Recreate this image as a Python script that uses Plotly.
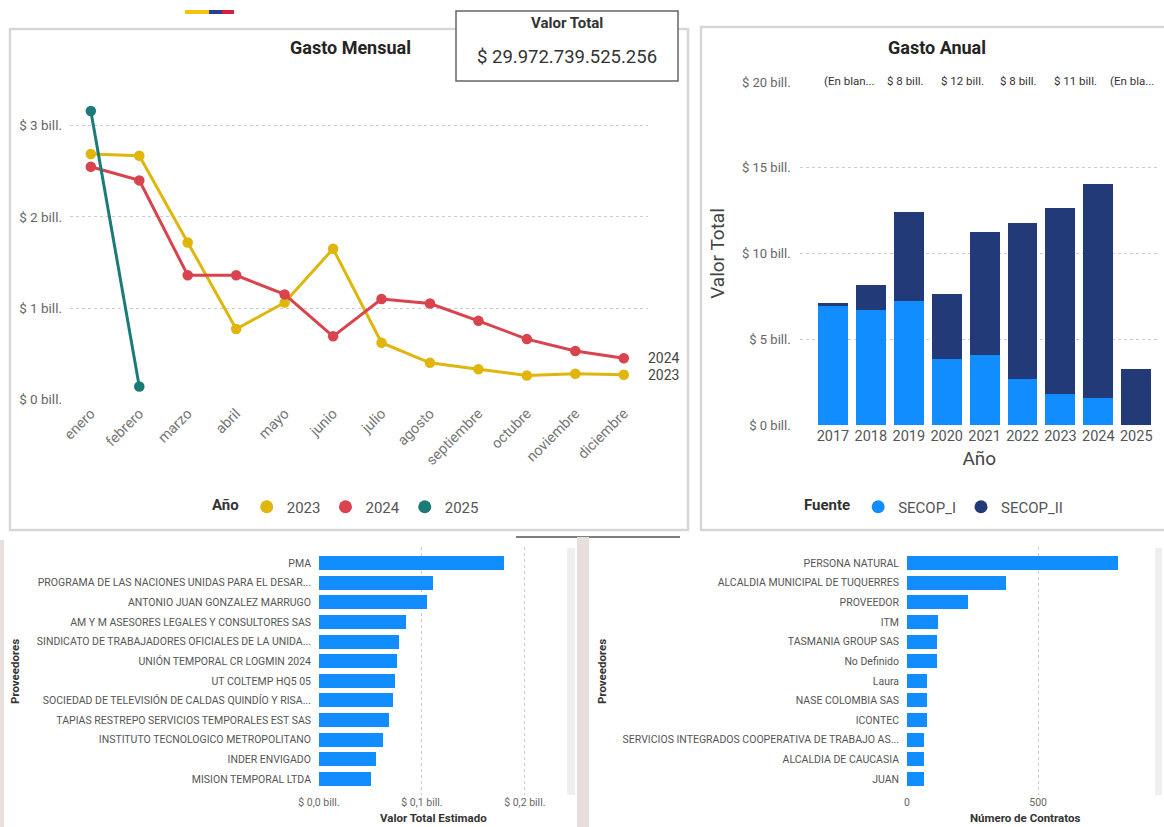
import plotly.graph_objects as go

W, H = 1164, 827


def fx(x):
    return x / W


def fy(y):
    return 1 - y / H


# ---------------- data ----------------
months = ["enero", "febrero", "marzo", "abril", "mayo", "junio", "julio",
          "agosto", "septiembre", "octubre", "noviembre", "diciembre"]
gasto_2023 = [2.69, 2.67, 1.72, 0.77, 1.06, 1.65, 0.62, 0.40, 0.33, 0.26, 0.28, 0.27]
gasto_2024 = [2.55, 2.40, 1.36, 1.36, 1.15, 0.69, 1.10, 1.05, 0.86, 0.66, 0.53, 0.45]
gasto_2025 = [3.16, 0.14]

years = ["2017", "2018", "2019", "2020", "2021", "2022", "2023", "2024", "2025"]
secop_i = [6.95, 6.69, 7.23, 3.87, 4.07, 2.66, 1.78, 1.55, 0.0]
secop_ii = [0.16, 1.47, 5.17, 3.76, 7.17, 9.14, 10.87, 12.52, 3.27]
top_labels = ["(En blan...", "$ 8 bill.", "$ 12 bill.", "$ 8 bill.", "$ 11 bill.", "(En bla..."]

prov_valor = ["PMA",
              "PROGRAMA DE LAS NACIONES UNIDAS PARA EL DESAR...",
              "ANTONIO JUAN GONZALEZ MARRUGO",
              "AM Y M ASESORES LEGALES Y CONSULTORES SAS",
              "SINDICATO DE TRABAJADORES OFICIALES DE LA UNIDA...",
              "UNIÓN TEMPORAL CR LOGMIN 2024",
              "UT COLTEMP HQ5 05",
              "SOCIEDAD DE TELEVISIÓN DE CALDAS QUINDÍO Y RISA...",
              "TAPIAS RESTREPO SERVICIOS TEMPORALES EST SAS",
              "INSTITUTO TECNOLOGICO METROPOLITANO",
              "INDER ENVIGADO",
              "MISION TEMPORAL LTDA"]
valor_estimado = [0.180, 0.111, 0.105, 0.085, 0.078, 0.076, 0.074, 0.072, 0.068, 0.062, 0.055, 0.051]

prov_contratos = ["PERSONA NATURAL",
                  "ALCALDIA MUNICIPAL DE TUQUERRES",
                  "PROVEEDOR",
                  "ITM",
                  "TASMANIA GROUP SAS",
                  "No Definido",
                  "Laura",
                  "NASE COLOMBIA SAS",
                  "ICONTEC",
                  "SERVICIOS INTEGRADOS COOPERATIVA DE TRABAJO AS...",
                  "ALCALDIA DE CAUCASIA",
                  "JUAN"]
num_contratos = [804, 377, 232, 119, 115, 115, 77, 77, 76, 64, 63, 63]

valor_total_kpi = "$ 29.972.739.525.256"

# ---------------- style ----------------
C23, C24, C25 = "#E0B60C", "#D9434E", "#1C7A78"
C_I, C_II = "#118DFF", "#233A79"
FONT = "Roboto, 'Noto Sans', sans-serif"
GRID = "#CDCDCD"
TICK = "#666666"

fig = go.Figure()

# line chart: Gasto Mensual
for name, vals, col in [("2023", gasto_2023, C23), ("2024", gasto_2024, C24), ("2025", gasto_2025, C25)]:
    fig.add_trace(go.Scatter(x=months[:len(vals)], y=vals, mode="lines+markers", name=name,
                             line=dict(color=col, width=3), marker=dict(color=col, size=10.5),
                             showlegend=False, xaxis="x", yaxis="y"))
for name, col in [("2023", C23), ("2024", C24), ("2025", C25)]:
    fig.add_trace(go.Scatter(x=[None], y=[None], mode="markers", name=name,
                             marker=dict(color=col, size=13), legend="legend",
                             xaxis="x", yaxis="y"))

# stacked bars: Gasto Anual
fig.add_trace(go.Bar(x=years, y=secop_i, name="SECOP_I", marker=dict(color=C_I, line=dict(width=0)),
                     width=0.79, showlegend=False, xaxis="x2", yaxis="y2"))
fig.add_trace(go.Bar(x=years, y=secop_ii, name="SECOP_II", marker=dict(color=C_II, line=dict(width=0)),
                     width=0.79, showlegend=False, xaxis="x2", yaxis="y2"))
for name, col in [("SECOP_I", C_I), ("SECOP_II", C_II)]:
    fig.add_trace(go.Scatter(x=[None], y=[None], mode="markers", name=name,
                             marker=dict(color=col, size=13), legend="legend2",
                             xaxis="x2", yaxis="y2"))

# horizontal bars
fig.add_trace(go.Bar(x=valor_estimado, y=prov_valor, orientation="h", marker=dict(color=C_I, line=dict(width=0)),
                     width=0.71, showlegend=False, xaxis="x3", yaxis="y3"))
fig.add_trace(go.Bar(x=num_contratos, y=prov_contratos, orientation="h", marker=dict(color=C_I, line=dict(width=0)),
                     width=0.71, showlegend=False, xaxis="x4", yaxis="y4"))

noline = dict(showline=False, zeroline=False, ticks="", automargin=False)

layout = dict(
    width=W, height=H, margin=dict(l=0, r=0, t=0, b=0),
    template="none", paper_bgcolor="white", plot_bgcolor="rgba(0,0,0,0)",
    font=dict(family=FONT, color="#444"), separators=",.", barmode="stack",
    xaxis=dict(domain=[fx(70), fx(648)], anchor="y", type="category", categoryorder="array",
               categoryarray=months, range=[-0.43, 11.5], tickangle=-45, showgrid=False,
               tickfont=dict(family=FONT, size=14.5, color="#777"), ticklabelstandoff=2, **noline),
    yaxis=dict(domain=[fy(399.3), fy(98.3)], anchor="x", range=[0, 3.3], tick0=0, dtick=1,
               tickprefix="$ ", ticksuffix=" bill.", showgrid=True, gridcolor=GRID, griddash="dot",
               gridwidth=1, tickfont=dict(family=FONT, size=13.5, color=TICK), ticklabelstandoff=7, **noline),
    xaxis2=dict(domain=[fx(799.6), fx(1159)], anchor="y2", type="category", categoryorder="array",
                categoryarray=years, range=[-0.88, 8.6], showgrid=False,
                tickfont=dict(family=FONT, size=14.5, color="#555"),
                title=dict(text="Año", font=dict(family=FONT, size=19, color="#444"), standoff=8), **noline),
    yaxis2=dict(domain=[fy(425), fy(82)], anchor="x2", range=[0, 20], tick0=0, dtick=5,
                tickprefix="$ ", ticksuffix=" bill.", showgrid=True, gridcolor=GRID, griddash="dot",
                tickfont=dict(family=FONT, size=13, color=TICK), ticklabelstandoff=8,
                title=dict(text="Valor Total", font=dict(family=FONT, size=19, color="#444"), standoff=12),
                **noline),
    xaxis3=dict(domain=[fx(319), fx(566)], anchor="y3", range=[0, 0.24], tick0=0, dtick=0.1, tickformat=".1f",
                tickprefix="$ ", ticksuffix=" bill.", showgrid=True, gridcolor=GRID, griddash="dot",
                tickfont=dict(family=FONT, size=10.5, color=TICK), **noline),
    yaxis3=dict(domain=[fy(794.7), fy(547.3)], anchor="x3", type="category", categoryorder="array",
                categoryarray=prov_valor, range=[len(prov_valor) - 0.2, -0.8], showgrid=False,
                tickfont=dict(family=FONT, size=10.5, color="#555"), ticklabelstandoff=7, **noline),
    xaxis4=dict(domain=[fx(907), fx(1143)], anchor="y4", range=[0, 900], tick0=0, dtick=500,
                showgrid=True, gridcolor=GRID, griddash="dot",
                tickfont=dict(family=FONT, size=10.5, color=TICK), **noline),
    yaxis4=dict(domain=[fy(794.7), fy(547.3)], anchor="x4", type="category", categoryorder="array",
                categoryarray=prov_contratos, range=[len(prov_contratos) - 0.2, -0.8], showgrid=False,
                tickfont=dict(family=FONT, size=10.5, color="#555"), ticklabelstandoff=7, **noline),
    legend=dict(orientation="h", x=fx(347), xanchor="center", y=fy(507), yanchor="middle",
                traceorder="normal",
                title=dict(text="<b>Año</b>", font=dict(family=FONT, size=15, color="#333")),
                font=dict(family=FONT, size=15, color="#555"), itemwidth=30, bgcolor="rgba(0,0,0,0)"),
    legend2=dict(orientation="h", x=fx(935), xanchor="center", y=fy(507), yanchor="middle",
                 traceorder="normal",
                 title=dict(text="<b>Fuente</b>", font=dict(family=FONT, size=15, color="#333")),
                 font=dict(family=FONT, size=15, color="#555"), itemwidth=30, bgcolor="rgba(0,0,0,0)"),
)
fig.update_layout(**layout)

# ---------------- shapes ----------------
shapes = [
    # panel borders
    dict(type="rect", xref="paper", yref="paper", x0=fx(10), x1=fx(688), y0=fy(530), y1=fy(29),
         line=dict(color="#D6D6D6", width=2.5), fillcolor="rgba(0,0,0,0)", layer="below"),
    dict(type="rect", xref="paper", yref="paper", x0=fx(701), x1=fx(1168), y0=fy(530), y1=fy(27),
         line=dict(color="#D6D6D6", width=2.5), fillcolor="rgba(0,0,0,0)", layer="below"),
    # KPI card
    dict(type="rect", xref="paper", yref="paper", x0=fx(456), x1=fx(678), y0=fy(81), y1=fy(11),
         line=dict(color="#666666", width=1.5), fillcolor="white", layer="above"),
    # flag
    dict(type="rect", xref="paper", yref="paper", x0=fx(185), x1=fx(209), y0=fy(14), y1=fy(10),
         line=dict(width=0), fillcolor="#F4C20D"),
    dict(type="rect", xref="paper", yref="paper", x0=fx(209), x1=fx(222), y0=fy(14), y1=fy(10),
         line=dict(width=0), fillcolor="#2B3F8E"),
    dict(type="rect", xref="paper", yref="paper", x0=fx(222), x1=fx(234), y0=fy(14), y1=fy(10),
         line=dict(width=0), fillcolor="#D91E3A"),
    # dark line near bottom panels
    dict(type="line", xref="paper", yref="paper", x0=fx(516), x1=fx(680), y0=fy(537), y1=fy(537),
         line=dict(color="#555555", width=1.5)),
    # divider and left edge
    dict(type="rect", xref="paper", yref="paper", x0=fx(577), x1=fx(589), y0=0, y1=fy(537),
         line=dict(width=0), fillcolor="#E7DFDB"),
    dict(type="rect", xref="paper", yref="paper", x0=0, x1=fx(4), y0=0, y1=fy(540),
         line=dict(width=0), fillcolor="#E9DFDC"),
    # scrollbars
    dict(type="rect", xref="paper", yref="paper", x0=fx(567), x1=fx(575), y0=fy(795), y1=fy(548),
         line=dict(width=0), fillcolor="#EFEFEF"),
    dict(type="rect", xref="paper", yref="paper", x0=fx(1155), x1=fx(1162), y0=fy(795), y1=fy(548),
         line=dict(width=0), fillcolor="#EFEFEF"),
]
fig.update_layout(shapes=shapes)

# ---------------- annotations ----------------
ann = [
    dict(text="<b>Gasto Mensual</b>", x=fx(350), y=fy(47), font=dict(size=18, color="#252423")),
    dict(text="<b>Gasto Anual</b>", x=fx(937), y=fy(47), font=dict(size=18, color="#252423")),
    dict(text="<b>Valor Total</b>", x=fx(567), y=fy(23), font=dict(size=15, color="#333")),
    dict(text=valor_total_kpi, x=fx(567), y=fy(57), font=dict(size=18.5, color="#333")),
    dict(text="<b>Proveedores</b>", x=fx(15), y=fy(672), textangle=-90, font=dict(size=11.5, color="#333")),
    dict(text="<b>Proveedores</b>", x=fx(602), y=fy(672), textangle=-90, font=dict(size=11.5, color="#333")),
    dict(text="<b>Valor Total Estimado</b>", x=fx(433), y=fy(818), font=dict(size=11.5, color="#333")),
    dict(text="<b>Número de Contratos</b>", x=fx(1025), y=fy(818), font=dict(size=11.5, color="#333")),
]
for i, t in enumerate(top_labels):
    ann.append(dict(text=t, x=fx(849 + i * 56.6), y=fy(81), font=dict(size=11.5, color="#333")))
for a in ann:
    a.update(xref="paper", yref="paper", showarrow=False, xanchor="center", yanchor="middle")
    a["font"].setdefault("family", FONT)

# series end labels
ann.append(dict(text="2024", x=months[-1], y=gasto_2024[-1], xref="x", yref="y", showarrow=False,
                xanchor="left", yanchor="middle", xshift=22, font=dict(family=FONT, size=14, color="#444")))
ann.append(dict(text="2023", x=months[-1], y=gasto_2023[-1], xref="x", yref="y", showarrow=False,
                xanchor="left", yanchor="middle", xshift=22, font=dict(family=FONT, size=14, color="#444")))
fig.update_layout(annotations=ann)

fig.write_html("out.html", config={"displayModeBar": False},
               post_script="document.body.style.margin='0';document.body.style.overflow='hidden';")
